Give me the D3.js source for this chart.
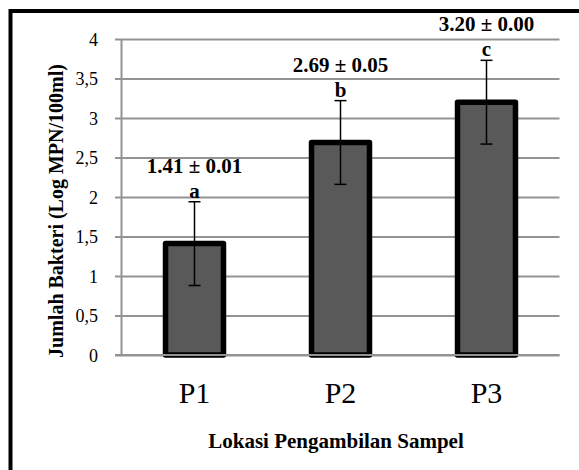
<!DOCTYPE html>
<html>
<head>
<meta charset="utf-8">
<script src="https://cdn.jsdelivr.net/npm/d3@7"></script>
<style>
  html, body { margin: 0; padding: 0; background: #fff; overflow: hidden; }
  svg { display: block; font-family: "Liberation Serif", "Times New Roman", serif; }
</style>
</head>
<body>
<div id="chart"></div>
<script>
const locations = ["P1", "P2", "P3"];
const means = [1.41, 2.69, 3.2];
const errors = [0.53, 0.53, 0.53];
const valueLabels = ["1.41 ± 0.01", "2.69 ± 0.05", "3.20 ± 0.00"];
const letters = ["a", "b", "c"];
const yTicks = [0, 0.5, 1, 1.5, 2, 2.5, 3, 3.5, 4];

const width = 579;
const height = 470;

const margin = { left: 121.5, right: 19.5, top: 39, bottom: 115 };

const svg = d3
  .select("#chart")
  .append("svg")
  .attr("width", width)
  .attr("height", height);

const x = d3
  .scaleBand()
  .domain(locations)
  .range([margin.left, width - margin.right])
  .paddingInner(0.603)
  .paddingOuter(0.3015);

const y = d3
  .scaleLinear()
  .domain([0, 4])
  .range([height - margin.bottom, margin.top]);

// gridlines, drawn leftwards from the right edge, with a small stub past the axis
const yAxis = d3
  .axisLeft(y)
  .tickValues(yTicks)
  .tickSize(width - margin.right - margin.left + 6.5)
  .tickPadding(0)
  .tickFormat((d) => String(d).replace(".", ","));

const yAxisG = svg
  .append("g")
  .attr("class", "y axis")
  .attr("transform", "translate(" + (width - margin.right) + ",0)")
  .call(yAxis);

yAxisG.select(".domain").remove();
yAxisG.selectAll(".tick line").attr("stroke", "#939393").attr("stroke-width", 2);
yAxisG
  .selectAll(".tick text")
  .attr("x", 98 - (width - margin.right))
  .attr("dy", "0.34em")
  .attr("text-anchor", "end")
  .style("font-family", "Liberation Serif")
  .style("font-size", "18px")
  .attr("fill", "#000");

// vertical axis line
svg
  .append("line")
  .attr("x1", margin.left)
  .attr("x2", margin.left)
  .attr("y1", y(4))
  .attr("y2", y(0))
  .attr("stroke", "#939393")
  .attr("stroke-width", 2);

// bars
svg
  .append("g")
  .attr("class", "bars")
  .selectAll("rect")
  .data(means)
  .join("rect")
  .attr("x", (d, i) => x(locations[i]))
  .attr("y", (d) => y(d))
  .attr("width", x.bandwidth())
  .attr("height", (d) => y(0) - y(d))
  .attr("fill", "#595959")
  .attr("stroke", "#000")
  .attr("stroke-width", 5.5)
  .attr("stroke-linejoin", "round");

// zero line sits over the bar bottoms
svg
  .append("line")
  .attr("x1", margin.left - 6.5)
  .attr("x2", width - margin.right)
  .attr("y1", y(0))
  .attr("y2", y(0))
  .attr("stroke", "#939393")
  .attr("stroke-width", 2);

// error bars
const cx = (i) => x(locations[i]) + x.bandwidth() / 2;
const capHalf = 6;
const err = svg.append("g").attr("class", "errors").attr("stroke", "#000").attr("stroke-width", 1.5);

err
  .selectAll(".stem")
  .data(means)
  .join("line")
  .attr("class", "stem")
  .attr("x1", (d, i) => cx(i))
  .attr("x2", (d, i) => cx(i))
  .attr("y1", (d, i) => y(d + errors[i]))
  .attr("y2", (d, i) => y(d - errors[i]));

err
  .selectAll(".cap-top")
  .data(means)
  .join("line")
  .attr("class", "cap-top")
  .attr("x1", (d, i) => cx(i) - capHalf)
  .attr("x2", (d, i) => cx(i) + capHalf)
  .attr("y1", (d, i) => y(d + errors[i]))
  .attr("y2", (d, i) => y(d + errors[i]));

err
  .selectAll(".cap-bottom")
  .data(means)
  .join("line")
  .attr("class", "cap-bottom")
  .attr("x1", (d, i) => cx(i) - capHalf)
  .attr("x2", (d, i) => cx(i) + capHalf)
  .attr("y1", (d, i) => y(d - errors[i]))
  .attr("y2", (d, i) => y(d - errors[i]));

// significance letters and mean ± sd labels above each error bar
const letterY = (d, i) => y(d + errors[i]) - 4;

svg
  .append("g")
  .attr("class", "letters")
  .selectAll("text")
  .data(means)
  .join("text")
  .attr("x", (d, i) => cx(i))
  .attr("y", letterY)
  .attr("text-anchor", "middle")
  .style("font-size", "21px")
  .style("font-weight", "bold")
  .text((d, i) => letters[i]);

svg
  .append("g")
  .attr("class", "value-labels")
  .selectAll("text")
  .data(means)
  .join("text")
  .attr("x", (d, i) => cx(i))
  .attr("y", (d, i) => letterY(d, i) - 25)
  .attr("text-anchor", "middle")
  .style("font-size", "21px")
  .style("font-weight", "bold")
  .text((d, i) => valueLabels[i]);

// category labels
const xAxis = d3.axisBottom(x).tickSize(0).tickPadding(0);

const xAxisG = svg
  .append("g")
  .attr("class", "x axis")
  .attr("transform", "translate(0," + y(0) + ")")
  .call(xAxis);

xAxisG.select(".domain").remove();
xAxisG
  .selectAll(".tick text")
  .attr("y", 48)
  .attr("dy", 0)
  .style("font-family", "Liberation Serif")
  .style("font-size", "30px")
  .attr("fill", "#000");

// axis titles
svg
  .append("text")
  .attr("x", 336)
  .attr("y", 448)
  .attr("text-anchor", "middle")
  .style("font-size", "21px")
  .style("font-weight", "bold")
  .text("Lokasi Pengambilan Sampel");

svg
  .append("text")
  .attr("transform", "translate(63," + 211 + ") rotate(-90)")
  .attr("text-anchor", "middle")
  .style("font-size", "20px")
  .style("font-weight", "bold")
  .text("Jumlah Bakteri (Log MPN/100ml)");

// outer frame drawn last: top and left edges of the chart box
svg
  .append("path")
  .attr("class", "frame")
  .attr("d", "M" + width + ",11H10.5V" + height)
  .attr("fill", "none")
  .attr("stroke", "#000")
  .attr("stroke-width", 4)
  .attr("stroke-linejoin", "miter");
</script>
</body>
</html>
